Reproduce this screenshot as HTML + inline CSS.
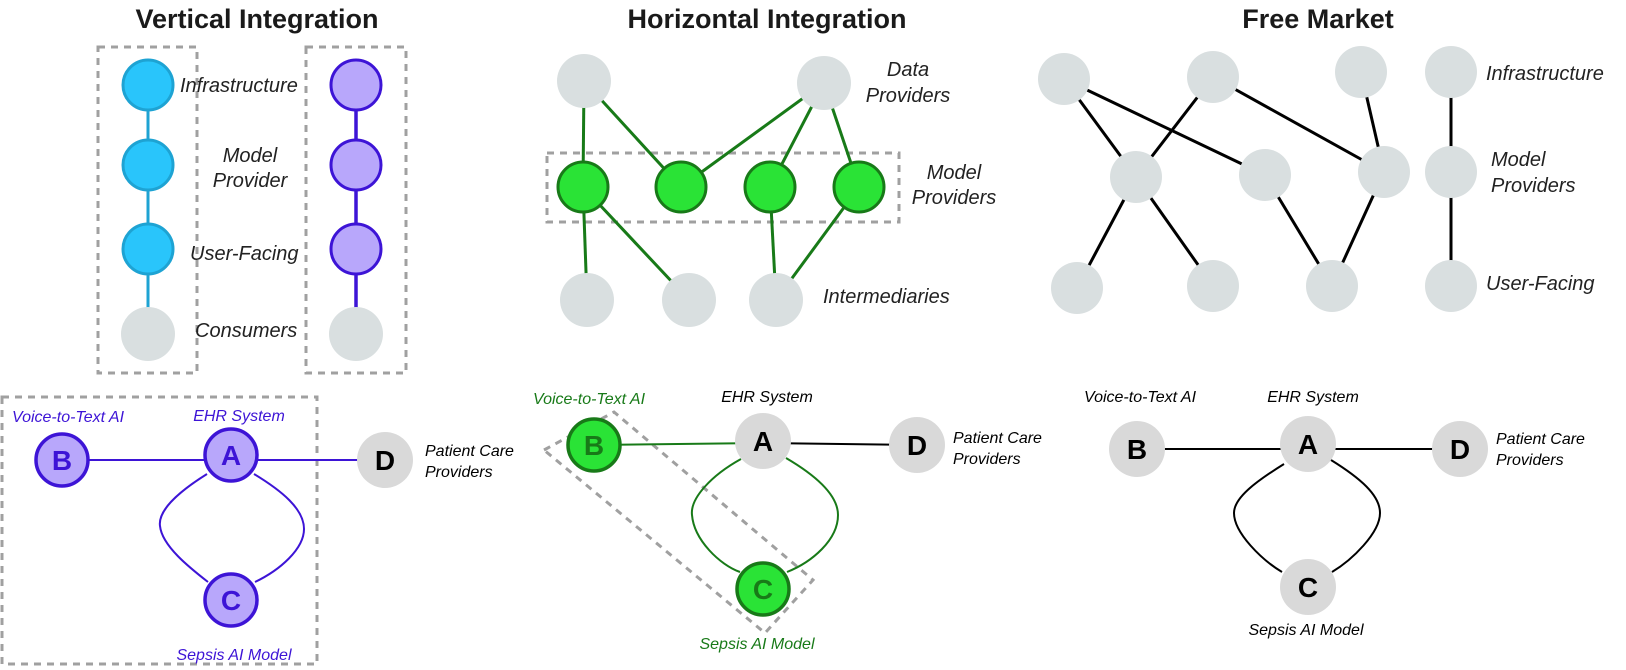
<!DOCTYPE html>
<html><head><meta charset="utf-8"><style>
html,body{margin:0;padding:0;background:#fff;}
svg{display:block;}
text{font-family:"Liberation Sans",sans-serif;}
.t{font-weight:bold;font-size:27px;fill:#1a1a1a;text-anchor:middle;}
.l{font-style:italic;font-size:20px;fill:#222;}
.s{font-style:italic;font-size:16px;}
.L{font-weight:bold;font-size:28px;text-anchor:middle;}
.box{fill:none;stroke:#a0a0a0;stroke-width:3;stroke-dasharray:7,6;}
</style></head><body>
<svg width="1626" height="670" viewBox="0 0 1626 670">
<!-- Titles -->
<text class="t" x="257" y="28">Vertical Integration</text>
<text class="t" x="767" y="28">Horizontal Integration</text>
<text class="t" x="1318" y="28">Free Market</text>

<!-- Vertical integration -->
<rect class="box" x="98" y="47" width="99" height="326"/>
<rect class="box" x="306" y="47" width="100" height="326"/>
<line x1="148" y1="85" x2="148" y2="334" stroke="#1ea3d3" stroke-width="3"/>
<line x1="356" y1="85" x2="356" y2="334" stroke="#3d14d6" stroke-width="3.5"/>
<g stroke="#1ea3d3" stroke-width="3" fill="#29c5fb">
<circle cx="148" cy="85" r="25"/><circle cx="148" cy="165" r="25"/><circle cx="148" cy="249" r="25"/>
</g>
<circle cx="148" cy="334" r="27" fill="#d9dfe0"/>
<g stroke="#3d14d6" stroke-width="3" fill="#b8a7fb">
<circle cx="356" cy="85" r="25"/><circle cx="356" cy="165" r="25"/><circle cx="356" cy="249" r="25"/>
</g>
<circle cx="356" cy="334" r="27" fill="#d9dfe0"/>
<text class="l" x="180" y="92">Infrastructure</text>
<text class="l" x="250" y="162" text-anchor="middle">Model</text>
<text class="l" x="250" y="187" text-anchor="middle">Provider</text>
<text class="l" x="190" y="260">User-Facing</text>
<text class="l" x="195" y="337">Consumers</text>

<!-- Horizontal integration -->
<rect class="box" x="547" y="153" width="352" height="69"/>
<g stroke="#187a18" stroke-width="3">
<line x1="584" y1="81" x2="583" y2="187"/>
<line x1="584" y1="81" x2="681" y2="187"/>
<line x1="824" y1="83" x2="681" y2="187"/>
<line x1="824" y1="83" x2="770" y2="187"/>
<line x1="824" y1="83" x2="859" y2="187"/>
<line x1="583" y1="187" x2="587" y2="300"/>
<line x1="583" y1="187" x2="689" y2="300"/>
<line x1="770" y1="187" x2="776" y2="300"/>
<line x1="859" y1="187" x2="776" y2="300"/>
</g>
<g fill="#d9dfe0">
<circle cx="584" cy="81" r="27"/><circle cx="824" cy="83" r="27"/>
<circle cx="587" cy="300" r="27"/><circle cx="689" cy="300" r="27"/><circle cx="776" cy="300" r="27"/>
</g>
<g stroke="#187a18" stroke-width="3" fill="#2ae336">
<circle cx="583" cy="187" r="25"/><circle cx="681" cy="187" r="25"/><circle cx="770" cy="187" r="25"/><circle cx="859" cy="187" r="25"/>
</g>
<text class="l" x="908" y="76" text-anchor="middle">Data</text>
<text class="l" x="908" y="102" text-anchor="middle">Providers</text>
<text class="l" x="954" y="179" text-anchor="middle">Model</text>
<text class="l" x="954" y="204" text-anchor="middle">Providers</text>
<text class="l" x="823" y="303">Intermediaries</text>

<!-- Free market -->
<g stroke="#000" stroke-width="3">
<line x1="1064" y1="79" x2="1136" y2="177"/>
<line x1="1064" y1="79" x2="1265" y2="175"/>
<line x1="1213" y1="77" x2="1136" y2="177"/>
<line x1="1213" y1="77" x2="1384" y2="172"/>
<line x1="1361" y1="72" x2="1384" y2="172"/>
<line x1="1136" y1="177" x2="1077" y2="288"/>
<line x1="1136" y1="177" x2="1213" y2="286"/>
<line x1="1265" y1="175" x2="1332" y2="286"/>
<line x1="1384" y1="172" x2="1332" y2="286"/>
<line x1="1451" y1="72" x2="1451" y2="286"/>
</g>
<g fill="#d9dfe0">
<circle cx="1064" cy="79" r="26"/><circle cx="1213" cy="77" r="26"/><circle cx="1361" cy="72" r="26"/><circle cx="1451" cy="72" r="26"/>
<circle cx="1136" cy="177" r="26"/><circle cx="1265" cy="175" r="26"/><circle cx="1384" cy="172" r="26"/><circle cx="1451" cy="172" r="26"/>
<circle cx="1077" cy="288" r="26"/><circle cx="1213" cy="286" r="26"/><circle cx="1332" cy="286" r="26"/><circle cx="1451" cy="286" r="26"/>
</g>
<text class="l" x="1486" y="80">Infrastructure</text>
<text class="l" x="1491" y="166">Model</text>
<text class="l" x="1491" y="192">Providers</text>
<text class="l" x="1486" y="290">User-Facing</text>

<!-- Bottom left: vertical example -->
<rect class="box" x="2" y="397" width="315" height="267"/>
<g stroke="#3d14d6" stroke-width="2" fill="none">
<line x1="62" y1="460" x2="385" y2="460"/>
<path d="M207,474 C175,494 158,512 160,526 C162,546 190,568 208,582"/>
<path d="M254,474 C282,491 304,509 304,529 C304,549 280,570 255,582"/>
</g>
<g stroke="#3d14d6" stroke-width="3.5" fill="#b8a7fb">
<circle cx="62" cy="460" r="26"/><circle cx="231" cy="455" r="26"/><circle cx="231" cy="600" r="26"/>
</g>
<circle cx="385" cy="460" r="28" fill="#d9d9d9"/>
<g fill="#3d14d6"><text class="L" x="62" y="470">B</text><text class="L" x="231" y="465">A</text><text class="L" x="231" y="610">C</text></g>
<text class="L" x="385" y="470" fill="#000">D</text>
<text class="s" x="12" y="422" fill="#3d14d6">Voice-to-Text AI</text>
<text class="s" x="239" y="421" fill="#3d14d6" text-anchor="middle">EHR System</text>
<text class="s" x="234" y="660" fill="#3d14d6" text-anchor="middle">Sepsis AI Model</text>
<text class="s" x="425" y="456" fill="#000">Patient Care</text>
<text class="s" x="425" y="477" fill="#000">Providers</text>

<!-- Bottom middle: horizontal example -->
<polygon class="box" points="544,450 614,412 813,580 765,633"/>
<g stroke="#187a18" stroke-width="2" fill="none">
<line x1="594" y1="445" x2="763" y2="443"/>
<path d="M741,459 C712,475 690,498 692,515 C694,540 720,565 740,572"/>
<path d="M786,458 C815,475 838,495 838,515 C838,540 812,562 787,572"/>
</g>
<line x1="763" y1="443" x2="917" y2="445" stroke="#000" stroke-width="2"/>
<g stroke="#187a18" stroke-width="3.5" fill="#2ae336">
<circle cx="594" cy="445" r="26"/><circle cx="763" cy="589" r="26"/>
</g>
<circle cx="763" cy="441" r="28" fill="#d9d9d9"/>
<circle cx="917" cy="445" r="28" fill="#d9d9d9"/>
<text class="L" x="594" y="455" fill="#187a18">B</text>
<text class="L" x="763" y="599" fill="#187a18">C</text>
<text class="L" x="763" y="451" fill="#000">A</text>
<text class="L" x="917" y="455" fill="#000">D</text>
<text class="s" x="533" y="404" fill="#187a18">Voice-to-Text AI</text>
<text class="s" x="767" y="402" fill="#000" text-anchor="middle">EHR System</text>
<text class="s" x="757" y="649" fill="#187a18" text-anchor="middle">Sepsis AI Model</text>
<text class="s" x="953" y="443" fill="#000">Patient Care</text>
<text class="s" x="953" y="464" fill="#000">Providers</text>

<!-- Bottom right: free market example -->
<g stroke="#000" stroke-width="2" fill="none">
<line x1="1137" y1="449" x2="1460" y2="449"/>
<path d="M1284,464 C1255,482 1234,498 1234,513 C1234,533 1262,560 1282,572"/>
<path d="M1331,460 C1360,478 1380,495 1380,513 C1380,533 1352,560 1332,572"/>
</g>
<g fill="#d9d9d9">
<circle cx="1137" cy="449" r="28"/><circle cx="1308" cy="444" r="28"/><circle cx="1460" cy="449" r="28"/><circle cx="1308" cy="587" r="28"/>
</g>
<g fill="#000"><text class="L" x="1137" y="459">B</text><text class="L" x="1308" y="454">A</text><text class="L" x="1460" y="459">D</text><text class="L" x="1308" y="597">C</text></g>
<text class="s" x="1084" y="402" fill="#000">Voice-to-Text AI</text>
<text class="s" x="1313" y="402" fill="#000" text-anchor="middle">EHR System</text>
<text class="s" x="1306" y="635" fill="#000" text-anchor="middle">Sepsis AI Model</text>
<text class="s" x="1496" y="444" fill="#000">Patient Care</text>
<text class="s" x="1496" y="465" fill="#000">Providers</text>
</svg>
</body></html>
